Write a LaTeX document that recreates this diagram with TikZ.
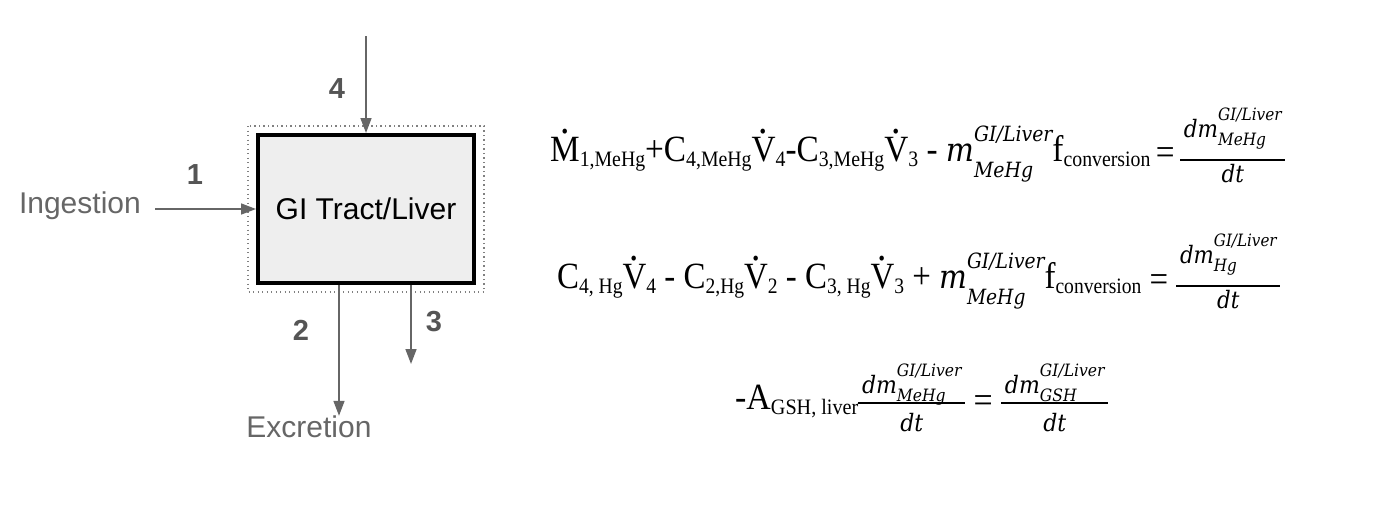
\documentclass[tikz,border=0pt]{standalone}
\usepackage{fontspec}
\usepackage{graphicx}
\setmainfont{Liberation Serif}
\newfontfamily\arialf{Liberation Sans}
\newfontfamily\mifont{DejaVu Serif}
\usetikzlibrary{arrows.meta}
\definecolor{arrowgray}{HTML}{666666}
\definecolor{labgray}{HTML}{555555}
\definecolor{dotgray}{HTML}{808080}
\definecolor{boxfill}{HTML}{EEEEEE}
\newdimen\qfrw
\newcommand\qsub[1]{\raisebox{-5pt}{\fontsize{22pt}{22pt}\selectfont #1}}
\newcommand\qdot[1]{\leavevmode\hbox{\ooalign{#1\cr\hidewidth\raisebox{28pt}{\fontsize{42pt}{42pt}\selectfont .}\hidewidth\cr}}}
\newcommand\qit[2]{{\fontsize{#1}{#1}\mifont\itshape #2}}
% big m with GI/Liver superscript and subscript #1
\newcommand\qm[1]{\qit{33pt}{m}\hbox{\ooalign{\raisebox{20pt}{\qit{21pt}{GI/Liver}}\cr\raisebox{-16pt}{\qit{21pt}{#1}}\cr}}}
% dm with GI/Liver superscript and subscript #1
\newcommand\qdm[1]{\qit{24pt}{dm}\hbox{\ooalign{\raisebox{17pt}{\qit{17pt}{GI/Liver}}\cr\raisebox{-8pt}{\qit{17pt}{#1}}\cr}}}
\newcommand\qdt{\qit{24pt}{dt}}
% \qfrac{num raise}{bar raise}{den lower}{num}{den}
\newcommand\qfrac[5]{\setbox0\hbox{#4}\setbox2\hbox{#5}%
  \qfrw=\wd0\relax \ifdim\wd2>\qfrw \qfrw=\wd2\relax\fi \advance\qfrw by 8pt\relax
  \hbox{\ooalign{\makebox[\qfrw]{\raisebox{#1}{\box0}}\cr\rule[#2]{\qfrw}{2.2pt}\cr\makebox[\qfrw]{\raisebox{-#3}{\box2}}\cr}}}
\tikzset{
  flow/.style={draw=arrowgray, line width=1.6pt, -{Triangle[length=15pt,width=11pt]}},
  num/.style={text=labgray, font=\arialf\bfseries\fontsize{29pt}{29pt}\selectfont, inner sep=0pt},
  lbl/.style={text=arrowgray, font=\arialf\fontsize{30pt}{30pt}\selectfont, inner sep=0pt},
  eq/.style={anchor=base west, inner sep=0pt, font=\fontsize{37pt}{37pt}\selectfont}
}
\begin{document}
\begin{tikzpicture}[x=1pt,y=-1pt]
\useasboundingbox (0,0) rectangle (1382,506);
\draw[dotgray, line width=1.3pt, dash pattern=on 1.3pt off 3.2pt] (248,126) rectangle (484,292);
\node[draw=black, line width=4pt, fill=boxfill, minimum width=216pt, minimum height=148pt,
      inner sep=0pt, font=\arialf\fontsize{30pt}{30pt}\selectfont] (box) at (366,209) {GI Tract/Liver};
\node[lbl, anchor=east] (ing) at (141,206) {Ingestion};
\node[lbl] (exc) at (309,427) {Excretion};
\coordinate (in4) at (366,36);
\coordinate (out3) at (411,364);
\coordinate (ingend) at (155,209);
\draw[flow] (ingend) -- (box.west |- ingend);
\draw[flow] (in4) -- (box.north -| in4);
\draw[flow] (box.south -| 339,0) -- (exc.north -| 339,0);
\draw[flow] (box.south -| out3) -- (out3);
\node[num] (n1) at (195,175) {1};
\node[num] (n4) at (337,89) {4};
\node[num] (n2) at (301,330) {2};
\node[num] (n3) at (434,322) {3};
\node[eq] (eq1) at (550,161) {\resizebox{735pt}{\height}{\qdot{M}\qsub{1,MeHg}+C\qsub{4,MeHg}\qdot{V}\qsub{4}-C\qsub{3,MeHg}\qdot{V}\qsub{3} - \qm{MeHg}f\qsub{conversion}\,\raisebox{-3pt}{=}\,\qfrac{24pt}{0pt}{21pt}{\qdm{MeHg}}{\qdt}}};
\node[eq] (eq2) at (557,288) {\resizebox{723pt}{\height}{C\qsub{4, Hg}\qdot{V}\qsub{4} - C\qsub{2,Hg}\qdot{V}\qsub{2} - C\qsub{3, Hg}\qdot{V}\qsub{3} + \qm{MeHg}f\qsub{conversion} \raisebox{-3pt}{=} \qfrac{25pt}{1pt}{20pt}{\qdm{Hg}}{\qdt}}};
\node[eq] (eq3) at (735,409) {\resizebox{373pt}{\height}{-A\qsub{GSH, liver}\qfrac{16pt}{5pt}{22pt}{\qdm{MeHg}}{\qdt} \raisebox{-3pt}{=} \qfrac{16pt}{5pt}{22pt}{\qdm{GSH}}{\qdt}}};
\end{tikzpicture}
\end{document}
